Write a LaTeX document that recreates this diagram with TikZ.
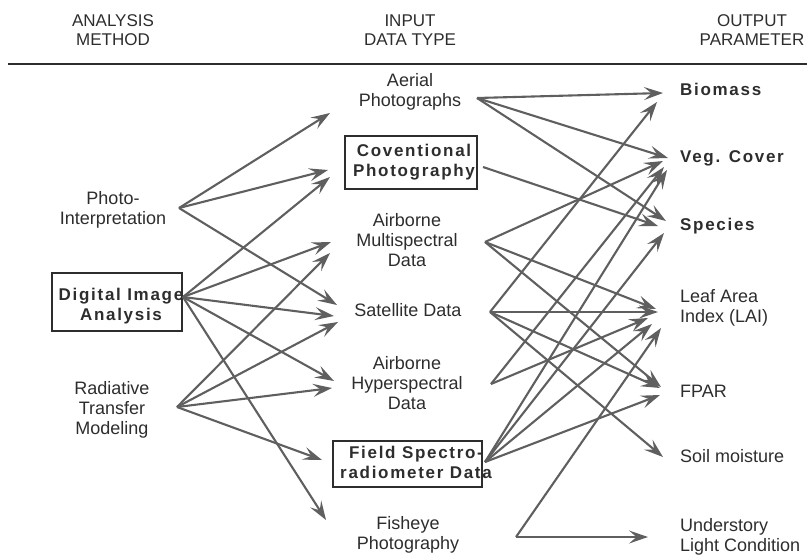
\documentclass[tikz,border=0pt]{standalone}
\usepackage{fontspec}
\setmainfont{Liberation Sans}
\newfontfamily\bsp[LetterSpace=10]{Liberation Sans}
\usetikzlibrary{arrows.meta}
\definecolor{ln}{RGB}{95,95,95}
\definecolor{tx}{RGB}{45,45,45}
\begin{document}
\begin{tikzpicture}[x=1pt,y=-1pt,
  lbl/.style={font=\fontsize{18}{20}\selectfont, align=center, text=tx, inner sep=0},
  blbl/.style={font=\bsp\bfseries\fontsize{17}{20}\selectfont, align=center, text=tx, inner sep=0},
  rlbl/.style={font=\fontsize{18}{20}\selectfont, align=left, text=tx, inner sep=0, anchor=west},
  rblbl/.style={font=\bsp\bfseries\fontsize{17}{20}\selectfont, align=left, text=tx, inner sep=0, anchor=west},
  hdr/.style={font=\fontsize{17}{19}\selectfont, align=center, text=tx, inner sep=0},
  frame/.style={draw=tx, line width=1.6pt, inner sep=0},
  arr/.style={ln, line width=2.1pt, -{Stealth[length=19pt,width=13pt,inset=7.5pt]}}]
\useasboundingbox (0,0) rectangle (810,555);
% headers
\node[hdr] (h1) at (113,30) {ANALYSIS\\METHOD};
\node[hdr] (h2) at (410,30) {INPUT\\DATA TYPE};
\node[hdr] (h3) at (752,30) {OUTPUT\\PARAMETER};
\coordinate (l1) at (8,64);
\coordinate (l2) at (807,64);
\draw[tx, line width=2.4pt] (l1) -- (l2);
% left column
\node[lbl] (pi) at (113,210) {Photo-\\Interpretation};
\node[frame, minimum width=130pt, minimum height=58pt] (diabox) at (117,302) {};
\node[blbl] (dia) at (121,306) {Digital Image\\Analysis};
\node[lbl] (rtm) at (112,410) {Radiative\\Transfer\\Modeling};
% middle column
\node[lbl] (aer) at (410,92) {Aerial\\Photographs};
\node[frame, minimum width=132pt, minimum height=53pt] (convbox) at (411,162.5) {};
\node[blbl] (conv) at (414,162) {Coventional\\Photography};
\node[lbl] (multi) at (407,240) {Airborne\\Multispectral\\Data};
\node[lbl] (sat) at (408,310) {Satellite Data};
\node[lbl] (hyp) at (407,383) {Airborne\\Hyperspectral\\Data};
\node[frame, minimum width=149pt, minimum height=46pt] (fieldbox) at (407.5,464) {};
\node[blbl] (field) at (416,462) {Field Spectro-\\radiometer Data};
\node[lbl] (fish) at (408,535) {Fisheye\\Photography};
% right column
\node[rblbl] (bio) at (680,89) {Biomass};
\node[rblbl] (veg) at (680,158) {Veg. Cover};
\node[rblbl] (spe) at (680,226) {Species};
\node[rlbl] (lai) at (680,308) {Leaf Area\\Index (LAI)};
\node[rlbl] (fpar) at (680,391) {FPAR};
\node[rlbl] (soil) at (680,456) {Soil moisture};
\node[rlbl] (und) at (680,537) {Understory\\Light Condition};
% sources
\coordinate (P) at (179,208);
\coordinate (D) at (183,297);
\coordinate (R) at (177,407);
\coordinate (A) at (477,98);
\coordinate (C) at (483,167);
\coordinate (M) at (485,242);
\coordinate (S) at (490,312);
\coordinate (H) at (491,384);
\coordinate (F) at (485,462);
\coordinate (E) at (516,537);
% tips left -> middle
\coordinate (PA) at (330,113);
\coordinate (PC) at (328,170);
\coordinate (PS) at (337,305);
\coordinate (DC) at (330,177);
\coordinate (DM) at (331,242);
\coordinate (DS) at (334,316);
\coordinate (DH) at (334,381);
\coordinate (DE) at (326,520);
\coordinate (RM) at (330,253);
\coordinate (RS) at (338,322);
\coordinate (RH) at (332,388);
\coordinate (RF) at (322,460);
% tips middle -> right
\coordinate (ABio) at (663,93);
\coordinate (AVeg) at (668,158);
\coordinate (ASpe) at (666,221);
\coordinate (CSpe) at (658,226);
\coordinate (MVeg) at (663,161);
\coordinate (SBio) at (657,102);
\coordinate (MLai) at (656,309);
\coordinate (MFpar) at (661,387);
\coordinate (SLai) at (658,312);
\coordinate (SFpar) at (660,388);
\coordinate (SSoil) at (663,457);
\coordinate (HVeg) at (664,167);
\coordinate (HLai) at (648,318);
\coordinate (FVeg) at (667,170);
\coordinate (FSpe) at (664,233);
\coordinate (FLai) at (652,324);
\coordinate (FFpar) at (660,395);
\coordinate (ELai) at (661,328);
\coordinate (EUnd) at (648,537);
% arrows left -> middle
\foreach \s/\t in {P/PA,P/PC,P/PS,D/DC,D/DM,D/DS,D/DH,D/DE,R/RM,R/RS,R/RH,R/RF}
  \draw[arr] (\s) -- (\t);
% arrows middle -> right
\foreach \s/\t in {A/ABio,A/AVeg,A/ASpe,C/CSpe,M/MVeg,S/SBio,M/MLai,M/MFpar,S/SLai,S/SFpar,S/SSoil,H/HVeg,H/HLai,F/FVeg,F/FSpe,F/FLai,F/FFpar,E/ELai,E/EUnd}
  \draw[arr] (\s) -- (\t);
\end{tikzpicture}
\end{document}
